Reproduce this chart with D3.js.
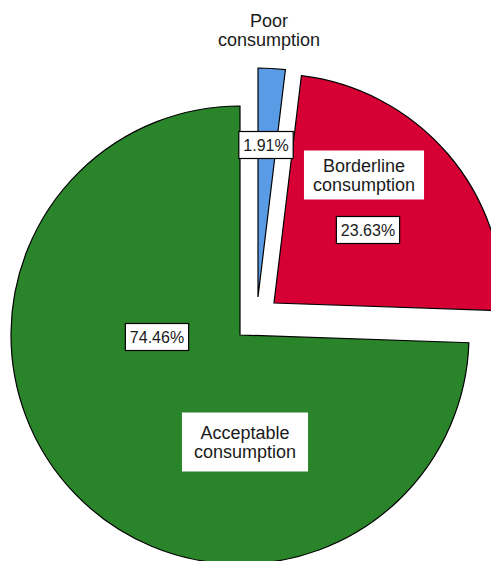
<!DOCTYPE html>
<html>
<head>
<meta charset="utf-8">
<script src="https://cdn.jsdelivr.net/npm/d3@7"></script>
<style>
  html, body { margin: 0; padding: 0; background: #fff; }
  svg { display: block; }
  text { font-family: "Liberation Sans", Arial, sans-serif; fill: #1a1a1a; }
</style>
</head>
<body>
<svg id="chart_svg" width="491" height="561"></svg>
<script>
// data, clockwise from 12 o'clock
var CATEGORIES = ["Poor consumption", "Borderline consumption", "Acceptable consumption"];
var PERCENTS = [1.91, 23.63, 74.46];
var COLORS = ["#5a9be6", "#d70034", "#2a852a"];

// layout (pixels)
var CX = 240, CY = 335, R = 229;
var EXPLODE = [[18, -38], [34, -32], [0, 0]];          // slice offsets
var PCT_POS = [[266, 145], [368, 230], [157, 337]];     // percent label centres
var NAME_POS = [[269, 30], [364, 175], [245, 442]];     // category label centres
var NAME_BOX = [false, true, true];

var svg = d3.select("#chart_svg");

var pie = d3.pie().sort(null).value(function(d) { return d; });
var arc = d3.arc().innerRadius(0).outerRadius(R);
var slices = pie(PERCENTS);

var g = svg.append("g").attr("transform", "translate(" + CX + "," + CY + ")");

g.selectAll("path")
    .data(slices)
    .enter()
    .append("path")
    .attr("d", arc)
    .attr("transform", function(d, i) { return "translate(" + EXPLODE[i][0] + "," + EXPLODE[i][1] + ")"; })
    .attr("fill", function(d, i) { return COLORS[i]; })
    .attr("stroke", "#000")
    .attr("stroke-width", 1.2)
    .attr("stroke-linejoin", "miter");

// category labels (two lines, white box)
CATEGORIES.forEach(function(name, i) {
    var lines = name.split(" ");
    var lg = svg.append("g");
    var rect = lg.append("rect").attr("fill", "#fff");
    var t = lg.append("text")
        .attr("text-anchor", "middle")
        .style("font-size", "18px");
    lines.forEach(function(l, k) {
        t.append("tspan")
            .attr("x", NAME_POS[i][0])
            .attr("y", NAME_POS[i][1] + (k - 0.5) * 19 + 6)
            .text(l);
    });
    if (NAME_BOX[i]) {
        var bb = t.node().getBBox();
        var padX = i == 2 ? 12 : 9, padY = i == 2 ? 10 : 5;
        rect.attr("x", bb.x - padX).attr("y", bb.y - padY)
            .attr("width", bb.width + padX * 2).attr("height", bb.height + padY * 2);
    } else {
        rect.remove();
    }
});

// percent labels (bordered box)
PERCENTS.forEach(function(p, i) {
    var lg = svg.append("g");
    var rect = lg.append("rect").attr("fill", "#fff").attr("stroke", "#000").attr("stroke-width", 1.2);
    var t = lg.append("text")
        .attr("x", PCT_POS[i][0])
        .attr("y", PCT_POS[i][1] + 6)
        .attr("text-anchor", "middle")
        .style("font-size", "16px")
        .text(d3.format(".2f")(p) + "%");
    var bb = t.node().getBBox();
    rect.attr("x", bb.x - 4.5).attr("y", PCT_POS[i][1] - 13.5)
        .attr("width", bb.width + 9).attr("height", 27);
});
</script>
</body>
</html>
